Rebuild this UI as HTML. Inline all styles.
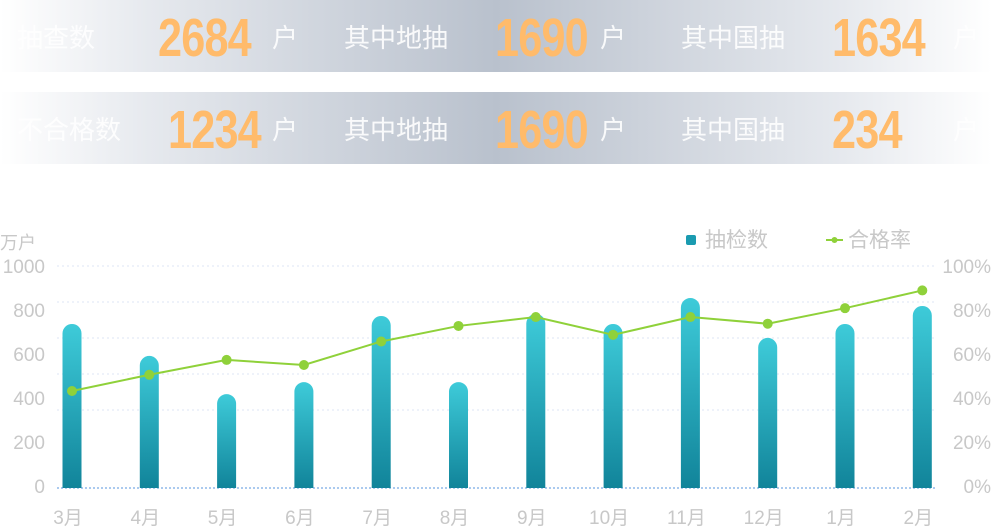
<!DOCTYPE html>
<html><head><meta charset="utf-8">
<style>
body{margin:0;width:992px;height:528px;background:#fff;overflow:hidden;font-family:"Liberation Sans","Noto Sans CJK SC",sans-serif;position:relative}
.band{position:absolute;left:0;width:992px;height:72px;background:linear-gradient(90deg,#fff 0%,#e6e9ee 15%,#b9c1cd 50%,#e6e9ee 85%,#fff 100%)}
.t{position:absolute;color:#fff;font-size:26px;line-height:30px;opacity:.9}
.n{position:absolute;color:#ffbb6b;font-weight:bold;font-size:54px;line-height:54px;transform:scaleX(.8);transform-origin:left center;letter-spacing:-1px}
</style></head><body>
<div class="band" style="top:0">
 <span class="t" style="left:17px;top:23px">抽查数</span>
 <span class="n" style="left:158px;top:11px">2684</span>
 <span class="t" style="left:272px;top:23px">户</span>
 <span class="t" style="left:344px;top:23px">其中地抽</span>
 <span class="n" style="left:495px;top:11px">1690</span>
 <span class="t" style="left:600px;top:23px">户</span>
 <span class="t" style="left:681px;top:23px">其中国抽</span>
 <span class="n" style="left:832px;top:11px">1634</span>
 <span class="t" style="left:953px;top:23px">户</span>
</div>
<div class="band" style="top:92px">
 <span class="t" style="left:17px;top:23px">不合格数</span>
 <span class="n" style="left:168px;top:11px">1234</span>
 <span class="t" style="left:272px;top:23px">户</span>
 <span class="t" style="left:344px;top:23px">其中地抽</span>
 <span class="n" style="left:495px;top:11px">1690</span>
 <span class="t" style="left:600px;top:23px">户</span>
 <span class="t" style="left:681px;top:23px">其中国抽</span>
 <span class="n" style="left:832px;top:11px">234</span>
 <span class="t" style="left:953px;top:23px">户</span>
</div>
<svg id="chart" width="992" height="528" style="position:absolute;left:0;top:0">
<defs><linearGradient id="bg" x1="0" y1="0" x2="0" y2="1"><stop offset="0" stop-color="#3ecbd9"/><stop offset="1" stop-color="#11849a"/></linearGradient></defs>
</svg>
<script>
const categories=['3月','4月','5月','6月','7月','8月','9月','10月','11月','12月','1月','2月'];
const barValues=[739,595,423,477,775,477,784,739,856,676,739,820];
const rateValues=[43.7,51,57.7,55.4,66,73,77,69,77,74,81,89];
const leftTicks=['1000','800','600','400','200','0'];
const rightTicks=['100%','80%','60%','40%','20%','0%'];
const NS='http://www.w3.org/2000/svg';
const svg=document.getElementById('chart');
const y0=488,yTop=266;
const yL=v=>y0-(v/1000)*(y0-yTop);
const yR=v=>y0-(v/100)*(y0-yTop);
const xC=i=>72+i*77.3;
function mk(t,a){const e=document.createElementNS(NS,t);for(const k in a)e.setAttribute(k,a[k]);svg.appendChild(e);return e;}
[266,302,338,374,410].forEach(y=>{const l=mk('line',{x1:57,x2:935,y1:y,y2:y,stroke:'#dde6f5','stroke-dasharray':'2,3'});

});
const ax=mk('line',{x1:57,x2:935,y1:488,y2:488,stroke:'#8fb8ea','stroke-width':1.5,'stroke-dasharray':'2,2'});


leftTicks.forEach((t,i)=>{const e=mk('text',{x:45,y:273+i*44,'text-anchor':'end','font-size':19,fill:'#c8c8c8'});e.textContent=t;

});
rightTicks.forEach((t,i)=>{const e=mk('text',{x:991,y:273+i*44,'text-anchor':'end','font-size':19,fill:'#c8c8c8'});e.textContent=t;

});
const ut=mk('text',{x:0,y:249,'font-size':18,fill:'#c8c8c8'});ut.textContent='万户';


categories.forEach((c,i)=>{
 const x=xC(i),top=yL(barValues[i]),w=19,r=9.5;
 const p=mk('path',{d:`M${x-w/2},${y0} V${top+r} A${r},${r} 0 0 1 ${x+w/2},${top+r} V${y0} Z`,fill:'url(#bg)'});
 
 
 const t=mk('text',{x:x-4,y:524,'text-anchor':'middle','font-size':19,fill:'#c8c8c8'});t.textContent=c;
 
 
});
const pl=mk('polyline',{points:rateValues.map((v,i)=>xC(i)+','+yR(v)).join(' '),fill:'none',stroke:'#8fd13a','stroke-width':2});


rateValues.forEach((v,i)=>{const c=mk('circle',{cx:xC(i),cy:yR(v),r:5,fill:'#8fd13a'});

});
const l1=mk('rect',{x:686,y:235,width:10,height:10,rx:2,fill:'#1a9bb0'});


const l1t=mk('text',{x:705,y:247,'font-size':21,fill:'#c8c8c8'});l1t.textContent='抽检数';


const l2=mk('line',{x1:826,x2:843,y1:240,y2:240,stroke:'#8fd13a','stroke-width':2});


const l2c=mk('circle',{cx:834.5,cy:240,r:3,fill:'#8fd13a'});


const l2t=mk('text',{x:848,y:247,'font-size':21,fill:'#c8c8c8'});l2t.textContent='合格率';


</script>
</body></html>
